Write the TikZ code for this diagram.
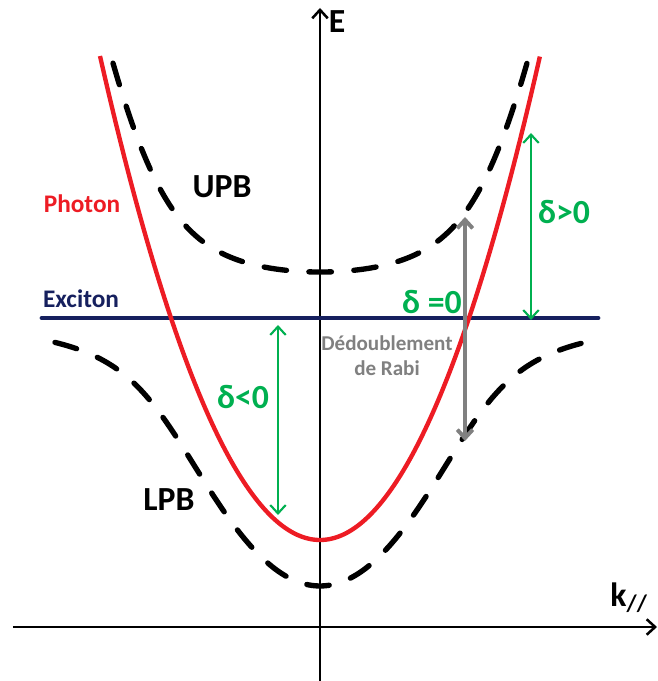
\documentclass[tikz,border=0pt]{standalone}
\usepackage{fontspec}
\setmainfont{Carlito}
\usetikzlibrary{arrows.meta}
\definecolor{photonred}{RGB}{237,28,36}
\definecolor{excitonblue}{RGB}{22,32,94}
\definecolor{detgreen}{RGB}{0,176,80}
\definecolor{rabigray}{RGB}{128,128,128}

\begin{document}
\begin{tikzpicture}[x=2.5cm, y=2.5cm, font=\bfseries,
    >={Straight Barb[length=6pt, width=11pt]},
    axis/.style={draw, line width=1.8pt, ->},
    photon/.style={draw=photonred, line width=3.1pt},
    exciton/.style={draw=excitonblue, line width=3.4pt, line cap=round},
    polariton/.style={draw=black, line width=3.8pt, line cap=round,
                      dash pattern=on 16pt off 16pt},
    detuning/.style={draw=detgreen, line width=1.5pt, <->},
    rabi/.style={draw=rabigray, line width=2.8pt, <->},
    big/.style={font=\fontsize{24}{28}\selectfont\bfseries},
    declare function={ph(\k)=0.87+\k*\k;
      up(\k)=(3.09+ph(\k))/2+sqrt(4.9284+(ph(\k)-3.09)^2)/2;
      lp(\k)=(3.09+ph(\k))/2-sqrt(4.9284+(ph(\k)-3.09)^2)/2;}]
    \useasboundingbox (-3.20,-0.54) rectangle (3.38,6.27);
    % axes
    \coordinate (kL) at (-3.07,0);
    \coordinate (kR) at (3.37,0);
    \coordinate (eB) at (0,-0.54);
    \coordinate (eT) at (0,6.19);
    \path (kL) edge[axis] (kR)
          (eB) edge[axis] (eT);
    \node[big] (E) at (0.17,6.05) {E};
    \node[big] (k) at (3.09,0.29) {k\textsubscript{//}};
    % branches
    \coordinate (xL) at (-2.78,3.09);
    \coordinate (xR) at (2.78,3.09);
    \path (xL) edge[exciton] (xR);
    \draw[photon] plot[domain=-2.2:2.2, samples=90, smooth] (\x,{ph(\x)});
    \draw[polariton] plot[domain=-2.07:2.07, samples=90, smooth] (\x,{up(\x)});
    \draw[polariton] plot[domain=-2.65:2.65, samples=110, smooth] (\x,{lp(\x)});
    \node[font=\fontsize{18}{22}\selectfont\bfseries, text=photonred] (photonlbl) at (-2.38,4.23) {Photon};
    \node[font=\fontsize{18}{22}\selectfont\bfseries, text=excitonblue] (excitonlbl) at (-2.39,3.28) {Exciton};
    \node[big] (upb) at (-0.98,4.40) {UPB};
    \node[big] (lpb) at (-1.51,1.27) {LPB};
    % detuning and splitting
    \coordinate (pos top) at (2.11,4.94);
    \coordinate (pos bot) at (2.11,3.07);
    \coordinate (neg top) at (-0.42,3.02);
    \coordinate (neg bot) at (-0.42,1.12);
    \coordinate (rabi top) at (1.45,4.10);
    \coordinate (rabi bot) at (1.45,1.86);
    \path (pos top) edge[detuning] (pos bot)
          (neg top) edge[detuning] (neg bot)
          (rabi top) edge[rabi] (rabi bot);
    \node[big, text=detgreen] (dpos) at (2.44,4.15) {δ>0};
    \node[big, text=detgreen] (dzero) at (1.12,3.25) {δ =0};
    \node[big, text=detgreen] (dneg) at (-0.77,2.30) {δ<0};
    \node[font=\fontsize{15}{17}\selectfont\bfseries, text=rabigray, align=center,
          inner sep=0pt] (rabilbl) at (0.67,2.71) {Dédoublement\\[1pt]de Rabi};
\end{tikzpicture}
\end{document}
